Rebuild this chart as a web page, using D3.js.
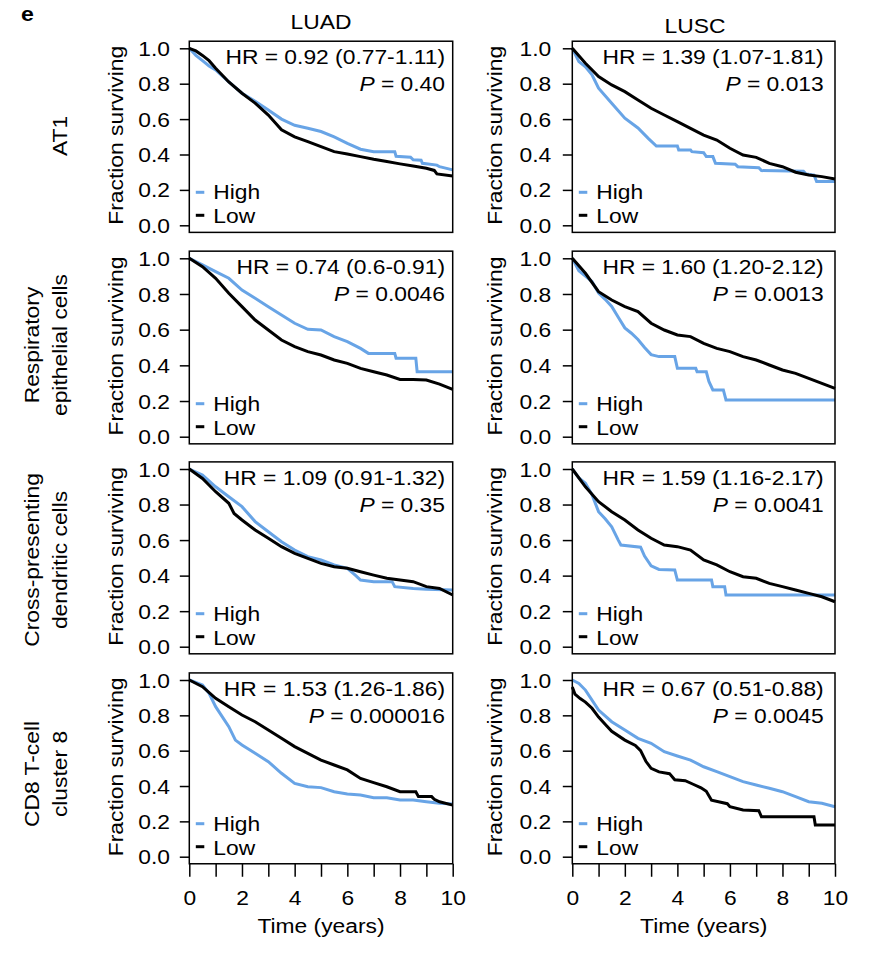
<!DOCTYPE html>
<html><head><meta charset="utf-8">
<script src="https://cdn.jsdelivr.net/npm/d3@7"></script>
<style>body{margin:0;background:#fff} svg{display:block}</style>
</head><body>
<script>
// ---------- data ----------
const columns = ["LUAD", "LUSC"];
const rowLabels = [["AT1"], ["Respiratory", "epithelial cells"], ["Cross-presenting", "dendritic cells"], ["CD8 T-cell", "cluster 8"]];
const seriesNames = ["High", "Low"];
const hrLabels = [
  ["HR = 0.92 (0.77-1.11)", "HR = 1.39 (1.07-1.81)"],
  ["HR = 0.74 (0.6-0.91)", "HR = 1.60 (1.20-2.12)"],
  ["HR = 1.09 (0.91-1.32)", "HR = 1.59 (1.16-2.17)"],
  ["HR = 1.53 (1.26-1.86)", "HR = 0.67 (0.51-0.88)"]
];
const pLabels = [["0.40", "0.013"], ["0.0046", "0.0013"], ["0.35", "0.0041"], ["0.000016", "0.0045"]];
const yTickValues = [0, 0.2, 0.4, 0.6, 0.8, 1.0];
const xTickValues = [0, 1, 2, 3, 4, 5, 6, 7, 8, 9, 10];
const xTickLabels = ["0", "", "2", "", "4", "", "6", "", "8", "", "10"];
const yAxisTitle = "Fraction surviving";
const xAxisTitle = "Time (years)";

// survival curves [time (years), fraction surviving]
const luadAT1High = [[0,1],[0.25,0.96],[0.5,0.93],[0.75,0.9],[1,0.878],[1.5,0.81],[2,0.746],[2.5,0.7],[3,0.652],[3.5,0.6],[4,0.565],[4.5,0.548],[5,0.53],[5.5,0.5],[6,0.463],[6.5,0.43],[7,0.416],[7.8,0.416],[7.85,0.39],[8.4,0.385],[8.5,0.37],[8.8,0.368],[8.85,0.35],[9.4,0.34],[9.5,0.331],[10,0.313]];
const luadAT1Low  = [[0,1],[0.25,0.985],[0.5,0.96],[0.75,0.93],[1,0.887],[1.5,0.81],[2,0.746],[2.5,0.69],[3,0.623],[3.5,0.54],[4,0.5],[4.5,0.473],[5,0.444],[5.5,0.416],[6,0.403],[6.5,0.388],[7,0.373],[7.5,0.36],[8,0.347],[8.5,0.335],[9,0.322],[9.3,0.31],[9.4,0.29],[10,0.278]];
const luscAT1High = [[0,1],[0.25,0.925],[0.5,0.895],[0.75,0.85],[1,0.775],[1.5,0.69],[2,0.605],[2.5,0.55],[2.9,0.49],[3.2,0.448],[4,0.448],[4.05,0.426],[4.5,0.426],[4.55,0.416],[5,0.41],[5.1,0.388],[5.35,0.388],[5.45,0.35],[6.2,0.345],[6.3,0.331],[7.1,0.325],[7.2,0.309],[8.8,0.305],[8.9,0.29],[9.2,0.284],[9.3,0.247],[10,0.247]];
const luscAT1Low  = [[0,1],[0.5,0.915],[1,0.84],[1.5,0.793],[2,0.755],[2.5,0.708],[3,0.661],[3.5,0.623],[4,0.586],[4.5,0.548],[5,0.51],[5.5,0.482],[6,0.435],[6.5,0.397],[7,0.384],[7.5,0.35],[8,0.331],[8.5,0.3],[9,0.284],[9.5,0.275],[10,0.262]];

const luadRespHigh = [[0,1],[0.5,0.963],[1,0.925],[1.5,0.888],[2,0.822],[2.5,0.776],[3,0.729],[3.5,0.682],[4,0.636],[4.5,0.602],[5,0.598],[5.5,0.561],[6,0.533],[6.5,0.495],[6.8,0.467],[7.8,0.467],[7.85,0.44],[8.6,0.44],[8.65,0.364],[10,0.364]];
const luadRespLow  = [[0,1],[0.5,0.953],[1,0.888],[1.5,0.804],[2,0.729],[2.5,0.654],[3,0.598],[3.5,0.542],[4,0.505],[4.5,0.477],[5,0.458],[5.5,0.43],[6,0.411],[6.5,0.383],[7,0.364],[7.5,0.346],[8,0.321],[8.5,0.321],[9,0.318],[9.5,0.295],[10,0.265]];
const luscRespHigh = [[0,1],[0.25,0.93],[0.5,0.9],[0.75,0.87],[1,0.805],[1.25,0.77],[1.5,0.73],[1.75,0.67],[2,0.61],[2.25,0.58],[2.5,0.545],[2.75,0.5],[3,0.46],[3.3,0.449],[3.9,0.449],[4,0.383],[4.7,0.383],[4.75,0.364],[5.1,0.364],[5.2,0.31],[5.35,0.262],[5.75,0.262],[5.85,0.206],[10,0.206]];
const luscRespLow  = [[0,1],[0.5,0.916],[1,0.813],[1.5,0.766],[2,0.729],[2.5,0.701],[3,0.636],[3.5,0.598],[4,0.57],[4.5,0.561],[5,0.523],[5.5,0.495],[6,0.477],[6.5,0.449],[7,0.43],[7.5,0.402],[8,0.374],[8.5,0.355],[9,0.327],[9.5,0.299],[10,0.271]];

const luadCpdcHigh = [[0,1],[0.5,0.966],[1,0.9],[1.5,0.844],[2,0.788],[2.5,0.704],[3,0.647],[3.5,0.591],[4,0.544],[4.5,0.507],[5,0.488],[5.5,0.46],[6,0.441],[6.3,0.403],[6.5,0.375],[7,0.366],[7.7,0.366],[7.8,0.338],[8.5,0.328],[9,0.323],[10,0.319]];
const luadCpdcLow  = [[0,1],[0.5,0.947],[1,0.872],[1.5,0.807],[1.7,0.75],[2,0.713],[2.5,0.657],[3,0.61],[3.5,0.563],[4,0.525],[4.5,0.497],[5,0.469],[5.5,0.45],[6,0.441],[6.5,0.422],[7,0.403],[7.5,0.385],[8,0.375],[8.5,0.366],[9,0.338],[9.5,0.328],[10,0.291]];
const luscCpdcHigh = [[0,1],[0.25,0.95],[0.5,0.92],[0.75,0.855],[1,0.76],[1.25,0.72],[1.5,0.675],[1.75,0.6],[1.85,0.572],[2.6,0.56],[2.75,0.51],[3,0.455],[3.3,0.435],[3.9,0.432],[4,0.375],[5.3,0.375],[5.35,0.338],[5.8,0.338],[5.85,0.291],[10,0.291]];
const luscCpdcLow  = [[0,1],[0.5,0.9],[1,0.816],[1.5,0.76],[2,0.713],[2.5,0.657],[3,0.61],[3.5,0.572],[4,0.563],[4.5,0.544],[5,0.488],[5.5,0.46],[6,0.422],[6.5,0.394],[7,0.385],[7.5,0.356],[8,0.338],[8.5,0.319],[9,0.3],[9.5,0.281],[10,0.253]];

const luadCd8High = [[0,1],[0.5,0.972],[0.75,0.925],[1,0.849],[1.5,0.736],[1.75,0.66],[2,0.632],[2.5,0.585],[3,0.538],[3.5,0.472],[4,0.415],[4.5,0.396],[5,0.391],[5.5,0.368],[6,0.355],[6.5,0.349],[7,0.334],[7.5,0.334],[8,0.321],[8.5,0.321],[9,0.311],[9.5,0.302],[10,0.298]];
const luadCd8Low  = [[0,1],[0.5,0.962],[1,0.896],[1.5,0.849],[2,0.802],[2.5,0.764],[3,0.717],[3.5,0.67],[4,0.623],[4.5,0.585],[5,0.547],[5.5,0.519],[6,0.491],[6.5,0.443],[7,0.419],[7.5,0.396],[8,0.368],[8.6,0.368],[8.7,0.34],[9.2,0.34],[9.3,0.325],[9.5,0.311],[10,0.292]];
const luscCd8High = [[0,1],[0.25,0.981],[0.5,0.943],[1,0.83],[1.5,0.764],[2,0.717],[2.5,0.67],[3,0.642],[3.5,0.594],[4,0.57],[4.5,0.547],[5,0.509],[5.5,0.481],[6,0.453],[6.5,0.425],[7,0.406],[7.5,0.387],[8,0.368],[8.5,0.34],[9,0.311],[9.5,0.302],[10,0.283]];
const luscCd8Low  = [[0,0.96],[0.1,0.92],[0.3,0.895],[0.5,0.875],[0.75,0.84],[1,0.79],[1.25,0.75],[1.5,0.71],[2,0.66],[2.4,0.63],[2.6,0.6],[2.8,0.54],[3,0.5],[3.3,0.48],[3.7,0.47],[3.9,0.435],[4.3,0.43],[4.6,0.41],[4.9,0.39],[5.1,0.37],[5.3,0.32],[5.9,0.3],[6,0.283],[6.5,0.264],[7.1,0.26],[7.2,0.226],[9.2,0.226],[9.25,0.179],[10,0.179]];

const panelSeries = [
  [[luadAT1High, luadAT1Low], [luscAT1High, luscAT1Low]],
  [[luadRespHigh, luadRespLow], [luscRespHigh, luscRespLow]],
  [[luadCpdcHigh, luadCpdcLow], [luscCpdcHigh, luscCpdcLow]],
  [[luadCd8High, luadCd8Low], [luscCd8High, luscCd8Low]]
];

// ---------- layout / style ----------
const W = 882, H = 960;
const colX = [[189.3, 452.7], [572.3, 835]];
const rowY = [[225.3, 48.3], [436.7, 258.3], [646.7, 469], [856.7, 680]];
const rowLabelCenter = [136, 345, 560, 774];
const FONT = "'Liberation Sans', Arial, Helvetica, sans-serif";
const FS = 19.5, SX = 1.17;
const colors = ["#68a4e6", "#000000"];

const svg = d3.select("body").append("svg").attr("width", W).attr("height", H)
  .style("font-family", FONT);

function txt(g, x, y, s, o = {}) {
  const t = g.append("text")
    .attr("transform", `translate(${x},${y})${o.rotate ? ` rotate(${o.rotate})` : ""} scale(${o.sx || SX},1)`)
    .attr("text-anchor", o.anchor || "start")
    .attr("font-size", o.size || FS)
    .attr("fill", "#000");
  if (o.weight) t.attr("font-weight", o.weight);
  if (o.italicPrefix) {
    t.append("tspan").attr("font-style", "italic").text(o.italicPrefix);
    t.append("tspan").text(s);
  } else t.text(s);
  return t;
}

// panel letter
txt(svg, 21, 20.5, "e", { weight: "bold", size: 21, sx: 1.1 });

// column titles
txt(svg, 321, 28.5, columns[0], { anchor: "middle" });
txt(svg, 695, 33, columns[1], { anchor: "middle" });

// row labels
rowLabels.forEach((lines, r) => {
  const cy = rowLabelCenter[r];
  if (lines.length === 1) {
    txt(svg, 67, cy, lines[0], { anchor: "middle", rotate: -90 });
  } else {
    txt(svg, 39, cy, lines[0], { anchor: "middle", rotate: -90 });
    txt(svg, 67, cy, lines[1], { anchor: "middle", rotate: -90 });
  }
});

const ylabX = [123, 502];
const hrInset = [7.7, 11.3];
const tickLabGap = [19.3, 21];

for (let r = 0; r < 4; r++) {
  for (let c = 0; c < 2; c++) {
    const x = d3.scaleLinear().domain([0, 10]).range(colX[c]);
    const y = d3.scaleLinear().domain([0, 1]).range(rowY[r]);
    const g = svg.append("g");

    // curves
    const line = d3.line().x(d => x(d[0])).y(d => y(d[1])).curve(d3.curveLinear);
    panelSeries[r][c].forEach((data, i) => {
      g.append("path").datum(data).attr("d", line)
        .attr("fill", "none").attr("stroke", colors[i])
        .attr("stroke-width", 3).attr("stroke-linejoin", "miter");
    });

    // box
    g.append("rect")
      .attr("x", x(0)).attr("y", y(1.04))
      .attr("width", x(10) - x(0)).attr("height", y(-0.04) - y(1.04))
      .attr("fill", "none").attr("stroke", "#000").attr("stroke-width", 1.5);

    // y axis
    const ya = g.append("g").attr("transform", `translate(${x(0)},0)`)
      .call(d3.axisLeft(y).tickValues(yTickValues).tickFormat(d3.format(".1f")).tickSize(9.5).tickSizeOuter(0));
    ya.select(".domain").remove();
    ya.selectAll(".tick line").attr("stroke-width", 1.5);
    ya.selectAll(".tick text")
      .attr("x", -tickLabGap[c] / SX).attr("dy", "0.36em")
      .attr("transform", `scale(${SX},1)`)
      .attr("font-size", FS).attr("font-family", FONT);

    // y axis title
    txt(g, ylabX[c], (rowY[r][0] + rowY[r][1]) / 2 - 1.5, yAxisTitle, { anchor: "middle", rotate: -90 });

    // HR / P annotations
    const xr = x(10) - hrInset[c];
    txt(g, xr, y(1) + 15.5, hrLabels[r][c], { anchor: "end" });
    txt(g, xr, y(1) + 42.5, " = " + pLabels[r][c], { anchor: "end", italicPrefix: "P" });

    // legend
    seriesNames.forEach((name, i) => {
      const ly = y(0) - (i === 0 ? 33 : 10);
      g.append("line").attr("x1", x(0) + 6.5).attr("x2", x(0) + 15)
        .attr("y1", ly).attr("y2", ly)
        .attr("stroke", colors[i]).attr("stroke-width", 3);
      txt(g, x(0) + 24, y(0) - (i === 0 ? 26 : 2), name);
    });

    // x axis (bottom row only)
    if (r === 3) {
      const xa = g.append("g").attr("transform", `translate(0,${y(-0.04)})`)
        .call(d3.axisBottom(x).tickValues(xTickValues).tickFormat((d, i) => xTickLabels[i]).tickSize(13).tickSizeOuter(0));
      xa.select(".domain").remove();
      xa.selectAll(".tick line").attr("stroke-width", 1.5);
      xa.selectAll(".tick text")
        .attr("y", 905 - y(-0.04)).attr("dy", 0)
        .attr("transform", `scale(${SX},1)`)
        .attr("font-size", FS).attr("font-family", FONT);
      txt(g, (x(0) + x(10)) / 2, 933, xAxisTitle, { anchor: "middle" });
    }
  }
}
</script>
</body></html>
